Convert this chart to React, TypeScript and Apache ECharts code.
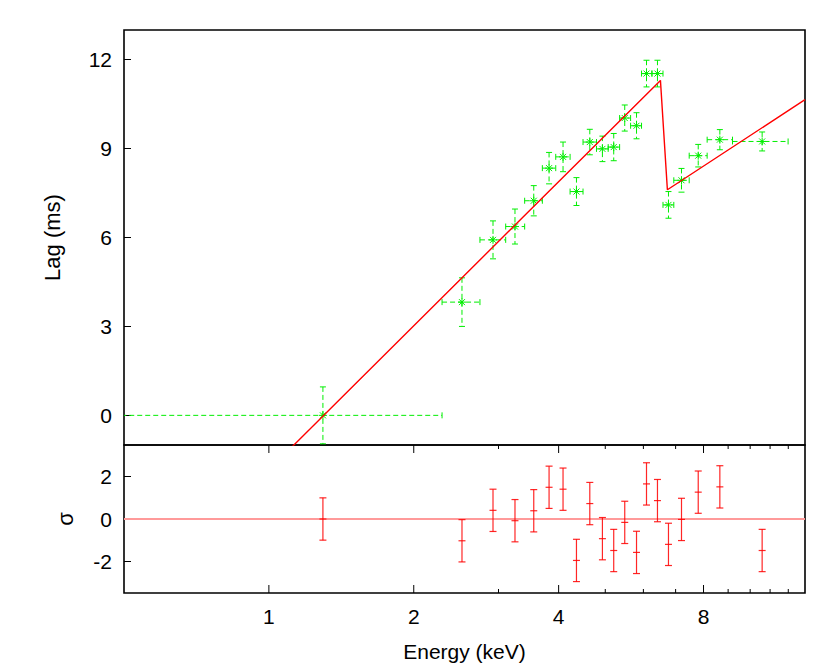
import React, { useEffect, useRef } from 'react';
import * as echarts from 'echarts';

// ---- data ----
const energy = [1.295, 2.519, 2.922, 3.246, 3.551, 3.821, 4.085, 4.356, 4.643, 4.932, 5.206, 5.488, 5.806, 6.09, 6.418, 6.765, 7.2, 7.8, 8.65, 10.59];
const energyLow = [0.3, 2.29, 2.745, 3.105, 3.4, 3.7, 3.945, 4.225, 4.495, 4.794, 5.07, 5.355, 5.644, 5.947, 6.25, 6.59, 6.94, 7.47, 8.14, 9.19];
const energyHigh = [2.29, 2.745, 3.105, 3.4, 3.7, 3.945, 4.225, 4.495, 4.794, 5.07, 5.355, 5.644, 5.947, 6.25, 6.59, 6.94, 7.47, 8.14, 9.19, 11.99];
const lag = [0.0, 3.82, 5.92, 6.37, 7.24, 8.34, 8.72, 7.55, 9.22, 8.99, 9.05, 10.03, 9.77, 11.53, 11.53, 7.1, 7.93, 8.76, 9.3, 9.24];
const lagErr = [0.96, 0.82, 0.64, 0.59, 0.51, 0.53, 0.5, 0.47, 0.43, 0.43, 0.46, 0.44, 0.44, 0.45, 0.45, 0.45, 0.4, 0.38, 0.34, 0.32];
const residual = [0.0, -1.03, 0.41, -0.08, 0.39, 1.5, 1.41, -1.96, 0.73, -0.93, -1.49, -0.16, -1.58, 1.66, 0.87, -1.2, -0.02, 1.27, 1.52, -1.49];
const residualErr = [1, 1, 1, 1, 1, 1, 1, 1, 1, 1, 1, 1, 1, 1, 1, 1, 1, 1, 1, 1];
const modelEnergy = [1.0, 6.51, 6.73, 13];
const modelLag = [-1.84, 11.3, 7.61, 10.65];

const energyTickLabels = [1, 2, 4, 8];
const energyMajorTicks = [1, 2, 4, 8];
const energyMinorTicks = [3, 5, 6, 7, 9, 10, 11, 12];
const lagTicks = [0, 3, 6, 9, 12];
const sigmaTicks = [-2, 0, 2];

const FONT = 'Liberation Sans';
const GREEN = '#00ee00';
const RED = '#ff0000';

function lagItem(params: any, api: any) {
  const e = api.value(0), l = api.value(1), lo = api.value(2), hi = api.value(3), er = api.value(4);
  const c = api.coord([e, l]);
  const xl = api.coord([lo, l])[0];
  const xh = api.coord([hi, l])[0];
  const yu = api.coord([e, l + er])[1];
  const yd = api.coord([e, l - er])[1];
  const dash = { stroke: GREEN, lineWidth: 1, lineDash: [5, 3], fill: null };
  const solid = { stroke: GREEN, lineWidth: 1, fill: null };
  const cap = 3;
  const s = 4;
  const d = 3;
  const ln = (x1: number, y1: number, x2: number, y2: number, style: any) => ({ type: 'line', shape: { x1, y1, x2, y2 }, style });
  return {
    type: 'group',
    children: [
      ln(xl, c[1], xh, c[1], dash),
      ln(c[0], yu, c[0], yd, dash),
      ln(xl, c[1] - cap, xl, c[1] + cap, solid),
      ln(xh, c[1] - cap, xh, c[1] + cap, solid),
      ln(c[0] - cap, yu, c[0] + cap, yu, solid),
      ln(c[0] - cap, yd, c[0] + cap, yd, solid),
      ln(c[0] - s, c[1], c[0] + s, c[1], solid),
      ln(c[0], c[1] - s, c[0], c[1] + s, solid),
      ln(c[0] - d, c[1] - d, c[0] + d, c[1] + d, solid),
      ln(c[0] - d, c[1] + d, c[0] + d, c[1] - d, solid),
    ],
  };
}

function residItem(params: any, api: any) {
  const e = api.value(0), r = api.value(1), er = api.value(2);
  const c = api.coord([e, r]);
  const yu = api.coord([e, r + er])[1];
  const yd = api.coord([e, r - er])[1];
  const st = { stroke: RED, lineWidth: 1.2, opacity: 0.85, fill: null };
  const w = 3.5;
  const ln = (x1: number, y1: number, x2: number, y2: number) => ({ type: 'line', shape: { x1, y1, x2, y2 }, style: st });
  return {
    type: 'group',
    children: [
      ln(c[0], yu, c[0], yd),
      ln(c[0] - w, yu, c[0] + w, yu),
      ln(c[0] - w, yd, c[0] + w, yd),
      ln(c[0] - w, c[1], c[0] + w, c[1]),
    ],
  };
}

function tickItem(len: number) {
  return (params: any, api: any) => {
    const cs = params.coordSys;
    const px = api.coord([api.value(0), 0])[0];
    const st = { stroke: '#000', lineWidth: 1, fill: null };
    return {
      type: 'group',
      children: [
        { type: 'line', shape: { x1: px, y1: cs.y, x2: px, y2: cs.y + len }, style: st },
        { type: 'line', shape: { x1: px, y1: cs.y + cs.height, x2: px, y2: cs.y + cs.height - len }, style: st },
      ],
    };
  };
}

export default function App() {
  const ref = useRef<HTMLDivElement>(null);
  useEffect(() => {
    const chart = echarts.init(ref.current!, null, { renderer: 'svg' });
    const lagData = energy.map((e, i) => [e, lag[i], energyLow[i], energyHigh[i], lagErr[i]]);
    const resData = energy.map((e, i) => [e, residual[i], residualErr[i]]);
    const modelData = modelEnergy.map((e, i) => [e, modelLag[i]]);
    const xBase = {
      type: 'log',
      logBase: 2,
      min: 0.5,
      max: 13,
      axisLine: { show: false },
      axisTick: { show: false },
      splitLine: { show: false },
    };
    const option: any = {
      animation: false,
      backgroundColor: '#fff',
      textStyle: { fontFamily: FONT },
      grid: [
        { left: 124, top: 30, width: 681, height: 415, show: true, borderColor: '#000', borderWidth: 1.6, backgroundColor: 'transparent' },
        { left: 124, top: 445, width: 681, height: 148, show: true, borderColor: '#000', borderWidth: 1.6, backgroundColor: 'transparent' },
      ],
      xAxis: [
        { ...xBase, gridIndex: 0, axisLabel: { show: false } },
        {
          ...xBase,
          gridIndex: 1,
          name: 'Energy (keV)',
          nameLocation: 'middle',
          nameGap: 48,
          nameTextStyle: { fontSize: 21, color: '#000', fontFamily: FONT },
          axisLabel: {
            show: true,
            showMinLabel: false,
            showMaxLabel: false,
            margin: 13,
            fontSize: 21,
            color: '#000',
            fontFamily: FONT,
            formatter: (v: number) => {
              const r = Math.round(v * 1000) / 1000;
              return energyTickLabels.indexOf(r) >= 0 ? String(r) : '';
            },
          },
        },
      ],
      yAxis: [
        {
          gridIndex: 0,
          type: 'value',
          min: -1,
          max: 13,
          axisLine: { show: false },
          splitLine: { show: false },
          axisTick: { show: true, inside: true, length: 7, customValues: lagTicks, lineStyle: { color: '#000', width: 1 } },
          axisLabel: { customValues: lagTicks, fontSize: 21, color: '#000', margin: 12, fontFamily: FONT },
          name: 'Lag (ms)',
          nameLocation: 'middle',
          nameRotate: 90,
          nameGap: 61,
          nameTextStyle: { fontSize: 22, color: '#000', fontFamily: FONT },
        },
        {
          gridIndex: 1,
          type: 'value',
          min: -3.5,
          max: 3.5,
          axisLine: { show: false },
          splitLine: { show: false },
          axisTick: { show: true, inside: true, length: 7, customValues: sigmaTicks, lineStyle: { color: '#000', width: 1 } },
          axisLabel: { customValues: sigmaTicks, fontSize: 21, color: '#000', margin: 12, fontFamily: FONT },
          name: 'σ',
          nameLocation: 'middle',
          nameRotate: 90,
          nameGap: 48,
          nameTextStyle: { fontSize: 22, color: '#000', fontFamily: FONT },
        },
      ],
      series: [
        {
          type: 'custom',
          name: 'lag',
          xAxisIndex: 0,
          yAxisIndex: 0,
          clip: true,
          renderItem: lagItem,
          data: lagData,
          encode: { x: 0, y: 1 },
          z: 2,
          silent: true,
        },
        {
          type: 'line',
          name: 'model',
          xAxisIndex: 0,
          yAxisIndex: 0,
          data: modelData,
          showSymbol: false,
          symbol: 'none',
          clip: true,
          lineStyle: { color: RED, width: 1.4 },
          z: 3,
          silent: true,
        },
        {
          type: 'custom',
          name: 'residual',
          xAxisIndex: 1,
          yAxisIndex: 1,
          clip: true,
          renderItem: residItem,
          data: resData,
          encode: { x: 0, y: 1 },
          z: 3,
          silent: true,
          markLine: {
            silent: true,
            symbol: 'none',
            label: { show: false },
            lineStyle: { color: '#ff9a9a', width: 2, type: 'solid' },
            data: [{ yAxis: 0 }],
            z: 1,
          },
        },
        {
          type: 'custom',
          name: 'majorTicks',
          xAxisIndex: 1,
          yAxisIndex: 1,
          renderItem: tickItem(8),
          data: energyMajorTicks.map((e) => [e, 0]),
          encode: { x: 0, y: 1 },
          silent: true,
          z: 4,
        },
        {
          type: 'custom',
          name: 'minorTicks',
          xAxisIndex: 1,
          yAxisIndex: 1,
          renderItem: tickItem(4),
          data: energyMinorTicks.map((e) => [e, 0]),
          encode: { x: 0, y: 1 },
          silent: true,
          z: 4,
        },
      ],
    };
    chart.setOption(option);
    return () => chart.dispose();
  }, []);
  return <div ref={ref} style={{ position: 'absolute', left: 0, top: 0, width: 830, height: 664, background: '#fff' }} />;
}
